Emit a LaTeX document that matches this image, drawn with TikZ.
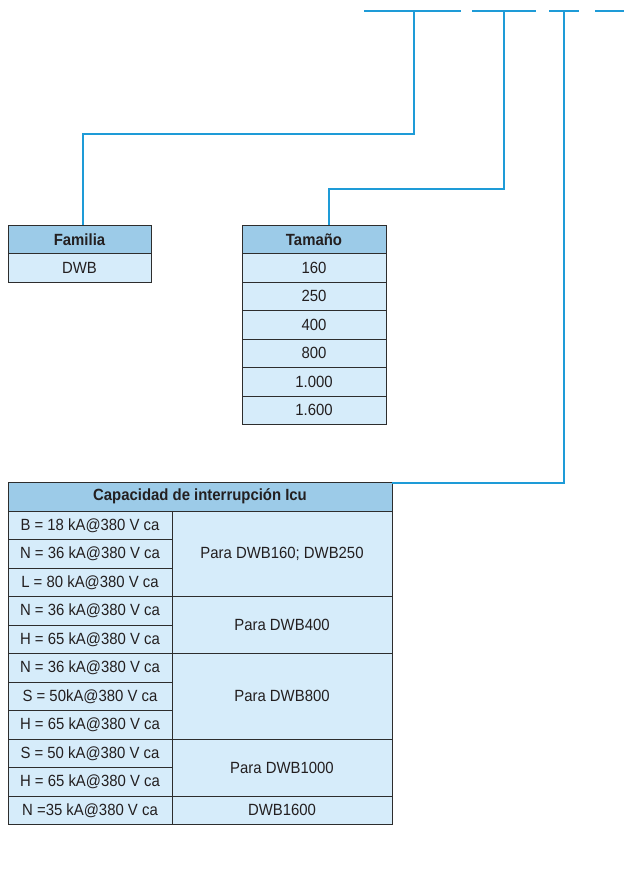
\documentclass[tikz,border=0pt]{standalone}
\usepackage{fontspec}
\setmainfont{Liberation Sans}[FakeStretch=0.92]
\definecolor{hdrfill}{RGB}{156,203,232}
\definecolor{rowfill}{RGB}{214,236,250}
\definecolor{conn}{RGB}{30,155,215}
\definecolor{edge}{RGB}{45,45,45}
\definecolor{txt}{RGB}{35,31,32}
\tikzset{
  cellbox/.style={draw=edge, line width=0.9pt, rectangle, inner sep=0pt, outer sep=0pt,
    text=txt, font=\fontsize{16.2}{19}\selectfont},
  hdr/.style={cellbox, fill=hdrfill, font=\fontsize{16.2}{19}\selectfont\bfseries},
  row/.style={cellbox, fill=rowfill},
  connline/.style={draw=conn, line width=1.3pt},
}
% \mycell{style}{x1}{y1}{x2}{y2}{name}{text}
\newcommand{\mycell}[7]{%
  \node[#1, minimum width={(#4-#2)*1pt}, minimum height={(#5-#3)*1pt}]
    (#6) at ({(#2+#4)/2},{(#3+#5)/2}) {#7};}
\begin{document}
\begin{tikzpicture}[x=1pt, y=-1pt]
\useasboundingbox (0,0) rectangle (624,872);
% top code segments
\coordinate (s1a) at (364,11); \coordinate (s1b) at (461,11);
\coordinate (s2a) at (472,11); \coordinate (s2b) at (536,11);
\coordinate (s3a) at (549,11); \coordinate (s3b) at (579,11);
\coordinate (s4a) at (595,11); \coordinate (s4b) at (624,11);
\draw[connline] (s1a) -- (s1b);
\draw[connline] (s2a) -- (s2b);
\draw[connline] (s3a) -- (s3b);
\draw[connline] (s4a) -- (s4b);
% Familia
\mycell{hdr}{8}{225}{151}{253.5}{famh}{Familia}
\mycell{row}{8}{253.5}{151}{282}{fam1}{DWB}
% Tamano
\mycell{hdr}{242}{225}{386}{253.5}{tamh}{Tamaño}
\mycell{row}{242}{253.5}{386}{282}{tam1}{160}
\mycell{row}{242}{282}{386}{310.5}{tam2}{250}
\mycell{row}{242}{310.5}{386}{339}{tam3}{400}
\mycell{row}{242}{339}{386}{367.5}{tam4}{800}
\mycell{row}{242}{367.5}{386}{396}{tam5}{1.000}
\mycell{row}{242}{396}{386}{424.5}{tam6}{1.600}
% Icu
\mycell{hdr}{8}{482}{392}{511}{icuh}{Capacidad de interrupción Icu}
\mycell{row}{8}{511}{172}{539.5}{c1}{B = 18 kA@380 V ca}
\mycell{row}{8}{539.5}{172}{568}{c2}{N = 36 kA@380 V ca}
\mycell{row}{8}{568}{172}{596.5}{c3}{L = 80 kA@380 V ca}
\mycell{row}{8}{596.5}{172}{625}{c4}{N = 36 kA@380 V ca}
\mycell{row}{8}{625}{172}{653.5}{c5}{H = 65 kA@380 V ca}
\mycell{row}{8}{653.5}{172}{682}{c6}{N = 36 kA@380 V ca}
\mycell{row}{8}{682}{172}{710.5}{c7}{S = 50kA@380 V ca}
\mycell{row}{8}{710.5}{172}{739}{c8}{H = 65 kA@380 V ca}
\mycell{row}{8}{739}{172}{767.5}{c9}{S = 50 kA@380 V ca}
\mycell{row}{8}{767.5}{172}{796}{c10}{H = 65 kA@380 V ca}
\mycell{row}{8}{796}{172}{824.5}{c11}{N =35 kA@380 V ca}
\mycell{row}{172}{511}{392}{596.5}{d1}{Para DWB160; DWB250}
\mycell{row}{172}{596.5}{392}{653.5}{d2}{Para DWB400}
\mycell{row}{172}{653.5}{392}{739}{d3}{Para DWB800}
\mycell{row}{172}{739}{392}{796}{d4}{Para DWB1000}
\mycell{row}{172}{796}{392}{824.5}{d5}{DWB1600}
% connectors
\coordinate (t1) at (414,11); \coordinate (b1) at (83,134);
\coordinate (t2) at (504,11); \coordinate (b2) at (329,189);
\coordinate (t3) at (564,11); \coordinate (b3) at (392,483);
\draw[connline] (t1) |- (b1) -- (b1 |- famh.north);
\draw[connline] (t2) |- (b2) -- (b2 |- tamh.north);
\draw[connline] (t3) |- (b3);
\end{tikzpicture}
\end{document}
